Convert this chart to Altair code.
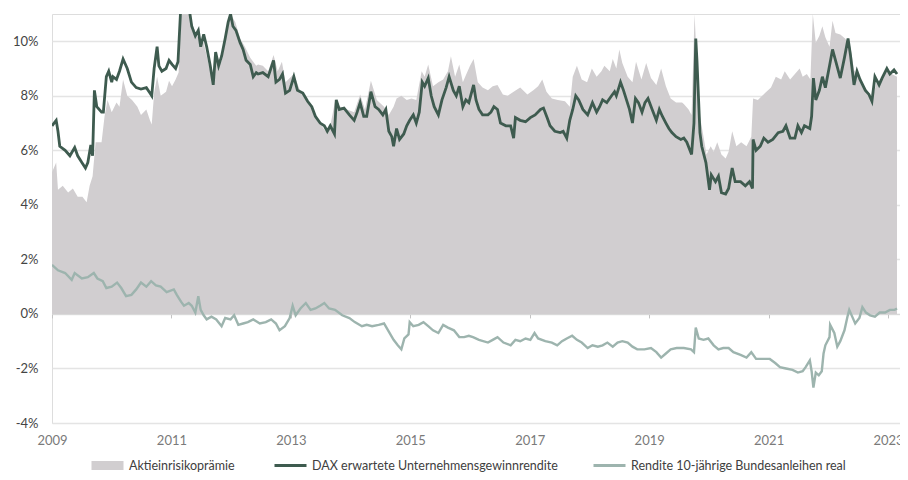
import altair as alt
import pandas as pd

# ---------------- data (decimal years, percent) ----------------
dax_year = [2009.00, 2009.07, 2009.10, 2009.13, 2009.22, 2009.30, 2009.38, 2009.43, 2009.50, 2009.56,
            2009.60, 2009.65, 2009.68, 2009.71, 2009.75, 2009.83, 2009.86, 2009.91, 2009.95, 2010.00,
            2010.02, 2010.08, 2010.13, 2010.19, 2010.26, 2010.33, 2010.41, 2010.49, 2010.58, 2010.64,
            2010.67, 2010.71, 2010.76, 2010.79, 2010.84, 2010.91, 2010.96, 2011.01, 2011.07, 2011.11,
            2011.16, 2011.21, 2011.29, 2011.34, 2011.40, 2011.45, 2011.49, 2011.54, 2011.59, 2011.65,
            2011.70, 2011.74, 2011.79, 2011.84, 2011.90, 2011.95, 2011.99, 2012.03, 2012.08, 2012.15,
            2012.20, 2012.25, 2012.32, 2012.37, 2012.42, 2012.45, 2012.53, 2012.62, 2012.71, 2012.75,
            2012.81, 2012.86, 2012.91, 2012.98, 2013.05, 2013.11, 2013.20, 2013.28, 2013.35, 2013.41,
            2013.49, 2013.56, 2013.61, 2013.66, 2013.73, 2013.76, 2013.81, 2013.89, 2013.98, 2014.06,
            2014.11, 2014.16, 2014.22, 2014.27, 2014.34, 2014.41, 2014.47, 2014.54, 2014.59, 2014.64,
            2014.69, 2014.72, 2014.77, 2014.82, 2014.89, 2014.94, 2014.99, 2015.05, 2015.10, 2015.15,
            2015.20, 2015.24, 2015.30, 2015.35, 2015.40, 2015.47, 2015.53, 2015.60, 2015.65, 2015.72,
            2015.77, 2015.82, 2015.88, 2015.93, 2015.98, 2016.06, 2016.10, 2016.15, 2016.21, 2016.30,
            2016.35, 2016.40, 2016.46, 2016.51, 2016.60, 2016.68, 2016.73, 2016.76, 2016.84, 2016.93,
            2017.01, 2017.09, 2017.18, 2017.23, 2017.29, 2017.34, 2017.42, 2017.51, 2017.56, 2017.62,
            2017.67, 2017.72, 2017.77, 2017.82, 2017.89, 2017.97, 2018.05, 2018.12, 2018.17, 2018.22,
            2018.29, 2018.37, 2018.42, 2018.45, 2018.52, 2018.57, 2018.62, 2018.67, 2018.72, 2018.77,
            2018.82, 2018.88, 2018.93, 2018.98, 2019.05, 2019.12, 2019.17, 2019.22, 2019.28, 2019.33,
            2019.38, 2019.45, 2019.53, 2019.58, 2019.63, 2019.71, 2019.75, 2019.78, 2019.80, 2019.85,
            2019.88, 2019.95, 2020.01, 2020.04, 2020.11, 2020.16, 2020.21, 2020.28, 2020.33, 2020.39,
            2020.44, 2020.53, 2020.61, 2020.68, 2020.73, 2020.74, 2020.79, 2020.86, 2020.92, 2020.99,
            2021.07, 2021.16, 2021.24, 2021.29, 2021.36, 2021.44, 2021.49, 2021.55, 2021.60, 2021.69,
            2021.72, 2021.75, 2021.79, 2021.85, 2021.90, 2021.95, 2022.02, 2022.07, 2022.12, 2022.20,
            2022.27, 2022.33, 2022.37, 2022.43, 2022.48, 2022.53, 2022.62, 2022.68, 2022.73, 2022.78,
            2022.85, 2022.90, 2022.98, 2023.03, 2023.10, 2023.15]
dax_value = [6.9, 7.1, 6.7, 6.15, 6.0, 5.8, 6.1, 5.8, 5.55, 5.35,
             5.55, 6.2, 5.8, 8.2, 7.6, 7.4, 7.4, 8.7, 8.9, 8.5,
             8.7, 8.6, 8.9, 9.35, 9.0, 8.5, 8.3, 8.25, 8.3, 8.1,
             8.0, 9.0, 9.8, 9.1, 8.9, 9.0, 9.3, 9.15, 9.0, 9.25,
             11.4, 11.6, 11.3, 10.55, 10.2, 10.4, 9.8, 10.25, 9.8, 9.1,
             8.4, 9.6, 9.1, 9.45, 10.1, 10.7, 11.0, 10.55, 10.4, 9.95,
             9.7, 9.3, 9.15, 8.7, 8.85, 8.8, 8.85, 8.7, 9.3, 8.5,
             8.6, 8.8, 8.1, 8.2, 8.7, 8.2, 8.1, 7.8, 7.6, 7.25,
             7.0, 6.9, 6.7, 6.9, 6.6, 7.85, 7.5, 7.55, 7.3, 7.1,
             7.4, 7.75, 7.25, 7.25, 8.15, 7.6, 7.5, 7.3, 7.5, 6.7,
             6.5, 6.15, 6.8, 6.4, 6.6, 6.9, 7.1, 7.3, 7.0, 7.4,
             8.5, 8.35, 8.65, 8.0, 7.6, 7.3, 7.85, 8.3, 8.7, 8.2,
             8.0, 8.35, 7.6, 7.85, 7.75, 8.4, 7.85, 7.5, 7.3, 7.3,
             7.4, 7.6, 7.5, 7.0, 6.9, 6.9, 6.45, 7.2, 7.1, 7.05,
             7.2, 7.3, 7.5, 7.55, 7.2, 6.9, 6.7, 6.65, 6.7, 6.45,
             7.1, 7.5, 8.0, 7.85, 7.5, 7.3, 7.75, 7.4, 7.6, 7.85,
             7.75, 8.0, 8.15, 8.0, 8.5, 8.2, 7.85, 7.5, 7.0, 7.9,
             7.75, 7.4, 7.75, 7.9, 7.5, 7.1, 7.5, 7.25, 7.0, 6.8,
             6.65, 6.5, 6.4, 6.45, 6.3, 5.85, 7.0, 10.1, 9.3, 6.65,
             6.15, 5.55, 4.55, 5.1, 4.85, 5.05, 4.45, 4.4, 4.6, 5.35,
             4.85, 4.85, 4.7, 4.85, 4.6, 6.4, 6.0, 6.15, 6.45, 6.3,
             6.4, 6.65, 6.7, 6.9, 6.45, 6.45, 6.9, 6.65, 6.9, 6.8,
             7.25, 8.65, 7.85, 8.2, 8.7, 8.3, 9.1, 9.7, 9.3, 8.65,
             9.4, 10.1, 9.5, 8.4, 8.9, 8.6, 8.2, 8.05, 7.8, 8.7,
             8.4, 8.65, 9.0, 8.8, 8.95, 8.8]

bond_year = [2009.00, 2009.10, 2009.22, 2009.33, 2009.38, 2009.50, 2009.60, 2009.70, 2009.76, 2009.85,
             2009.91, 2010.00, 2010.09, 2010.16, 2010.24, 2010.33, 2010.41, 2010.49, 2010.58, 2010.66,
             2010.74, 2010.82, 2010.92, 2011.04, 2011.09, 2011.16, 2011.21, 2011.29, 2011.34, 2011.40,
             2011.45, 2011.49, 2011.54, 2011.59, 2011.67, 2011.75, 2011.84, 2011.90, 2011.99, 2012.05,
             2012.12, 2012.20, 2012.28, 2012.37, 2012.48, 2012.58, 2012.67, 2012.75, 2012.81, 2012.90,
             2012.98, 2013.03, 2013.08, 2013.16, 2013.25, 2013.33, 2013.41, 2013.49, 2013.56, 2013.64,
             2013.74, 2013.86, 2013.98, 2014.07, 2014.19, 2014.27, 2014.36, 2014.47, 2014.56, 2014.64,
             2014.72, 2014.79, 2014.85, 2014.90, 2014.97, 2014.99, 2015.05, 2015.14, 2015.22, 2015.30,
             2015.38, 2015.47, 2015.55, 2015.63, 2015.73, 2015.82, 2015.90, 2015.98, 2016.05, 2016.15,
             2016.30, 2016.38, 2016.46, 2016.56, 2016.68, 2016.76, 2016.84, 2016.93, 2017.01, 2017.08,
             2017.14, 2017.26, 2017.37, 2017.46, 2017.54, 2017.62, 2017.71, 2017.79, 2017.87, 2017.97,
             2018.05, 2018.14, 2018.22, 2018.30, 2018.39, 2018.47, 2018.55, 2018.64, 2018.72, 2018.80,
             2018.92, 2019.03, 2019.12, 2019.20, 2019.28, 2019.36, 2019.46, 2019.58, 2019.70, 2019.75,
             2019.78, 2019.83, 2019.91, 2019.99, 2020.08, 2020.16, 2020.24, 2020.33, 2020.41, 2020.53,
             2020.63, 2020.71, 2020.79, 2020.91, 2021.02, 2021.11, 2021.19, 2021.29, 2021.40, 2021.49,
             2021.57, 2021.62, 2021.69, 2021.72, 2021.75, 2021.79, 2021.84, 2021.89, 2021.92, 2021.95,
             2022.02, 2022.03, 2022.10, 2022.15, 2022.20, 2022.27, 2022.32, 2022.35, 2022.42, 2022.45,
             2022.52, 2022.57, 2022.63, 2022.70, 2022.78, 2022.86, 2022.95, 2023.03, 2023.11, 2023.15]
bond_value = [1.8, 1.6, 1.5, 1.25, 1.5, 1.3, 1.35, 1.5, 1.3, 1.2,
              0.95, 1.0, 1.15, 0.95, 0.65, 0.7, 0.9, 1.15, 1.0, 1.2,
              1.05, 1.0, 0.8, 0.9, 0.7, 0.45, 0.3, 0.4, 0.3, 0.05,
              0.65, 0.15, -0.05, -0.2, -0.1, -0.2, -0.45, -0.15, -0.2, -0.05,
              -0.4, -0.35, -0.3, -0.2, -0.35, -0.3, -0.2, -0.35, -0.6, -0.45,
              -0.15, 0.3, -0.05, 0.2, 0.4, 0.15, 0.2, 0.3, 0.4, 0.2,
              0.15, -0.05, -0.15, -0.3, -0.45, -0.4, -0.45, -0.4, -0.35, -0.65,
              -0.95, -1.15, -1.3, -0.9, -0.75, -0.3, -0.45, -0.4, -0.3, -0.45,
              -0.6, -0.7, -0.4, -0.5, -0.6, -0.85, -0.85, -0.8, -0.85, -0.95,
              -1.05, -0.95, -0.85, -1.05, -1.15, -0.95, -1.0, -0.9, -0.95, -0.7,
              -0.9, -1.0, -1.05, -1.15, -1.0, -0.9, -0.8, -0.95, -1.05, -1.25,
              -1.15, -1.2, -1.15, -1.05, -1.2, -1.05, -1.0, -1.05, -1.2, -1.3,
              -1.3, -1.25, -1.4, -1.6, -1.45, -1.3, -1.25, -1.25, -1.3, -1.4,
              -0.5, -0.9, -0.95, -0.9, -1.15, -1.3, -1.25, -1.25, -1.4, -1.5,
              -1.6, -1.4, -1.65, -1.65, -1.65, -1.8, -1.95, -2.0, -2.05, -2.15,
              -2.1, -1.95, -1.7, -2.1, -2.7, -2.15, -2.25, -2.1, -1.45, -1.15,
              -0.85, -0.4, -0.7, -1.2, -1.0, -0.6, -0.1, 0.15, -0.2, -0.35,
              -0.15, 0.25, 0.05, -0.05, -0.1, 0.05, 0.05, 0.15, 0.15, 0.2]

prem_year = [2009.00, 2009.07, 2009.10, 2009.18, 2009.27, 2009.35, 2009.43, 2009.51, 2009.58, 2009.63,
             2009.68, 2009.73, 2009.83, 2009.88, 2009.93, 2010.00, 2010.08, 2010.13, 2010.19, 2010.26,
             2010.34, 2010.43, 2010.49, 2010.58, 2010.64, 2010.67, 2010.71, 2010.76, 2010.82, 2010.91,
             2010.96, 2011.01, 2011.07, 2011.12, 2011.16, 2011.26, 2011.34, 2011.42, 2011.54, 2011.65,
             2011.70, 2011.75, 2011.84, 2011.92, 2011.99, 2012.07, 2012.15, 2012.23, 2012.32, 2012.42,
             2012.45, 2012.53, 2012.62, 2012.71, 2012.78, 2012.85, 2012.91, 2013.05, 2013.15, 2013.25,
             2013.36, 2013.48, 2013.58, 2013.66, 2013.74, 2013.83, 2013.94, 2014.06, 2014.16, 2014.24,
             2014.34, 2014.44, 2014.56, 2014.64, 2014.72, 2014.77, 2014.85, 2014.94, 2015.02, 2015.10,
             2015.19, 2015.24, 2015.30, 2015.38, 2015.47, 2015.55, 2015.63, 2015.68, 2015.75, 2015.82,
             2015.88, 2015.93, 2016.00, 2016.06, 2016.13, 2016.21, 2016.30, 2016.38, 2016.46, 2016.55,
             2016.63, 2016.73, 2016.84, 2016.96, 2017.06, 2017.14, 2017.21, 2017.28, 2017.37, 2017.47,
             2017.59, 2017.67, 2017.72, 2017.79, 2017.87, 2017.96, 2018.04, 2018.12, 2018.20, 2018.25,
             2018.34, 2018.39, 2018.45, 2018.50, 2018.55, 2018.64, 2018.72, 2018.78, 2018.87, 2018.95,
             2019.03, 2019.12, 2019.20, 2019.28, 2019.36, 2019.45, 2019.55, 2019.58, 2019.66, 2019.71,
             2019.76, 2019.80, 2019.85, 2019.91, 2019.96, 2020.03, 2020.08, 2020.14, 2020.21, 2020.28,
             2020.33, 2020.39, 2020.46, 2020.54, 2020.63, 2020.71, 2020.74, 2020.82, 2020.94, 2021.04,
             2021.12, 2021.21, 2021.27, 2021.36, 2021.44, 2021.52, 2021.57, 2021.64, 2021.70, 2021.74,
             2021.79, 2021.85, 2021.90, 2021.95, 2022.02, 2022.07, 2022.12, 2022.20, 2022.28, 2022.37,
             2022.43, 2022.52, 2022.60, 2022.68, 2022.73, 2022.81, 2022.90, 2022.98, 2023.06, 2023.15]
prem_value = [5.2, 5.55, 4.55, 4.7, 4.45, 4.6, 4.3, 4.3, 4.1, 4.7,
              5.05, 6.3, 6.3, 7.25, 7.85, 7.4, 7.75, 7.6, 8.6, 8.0,
              7.85, 7.6, 7.3, 7.5, 7.1, 6.95, 8.1, 8.7, 8.0, 8.15,
              8.55, 8.35, 8.6, 8.85, 10.9, 11.3, 10.7, 10.2, 9.95, 8.9,
              8.5, 9.45, 9.25, 10.2, 11.0, 10.7, 10.1, 9.8, 9.4, 9.1,
              9.15, 9.1, 8.9, 9.5, 8.9, 9.25, 8.5, 8.8, 8.2, 8.0,
              7.5, 7.0, 6.7, 6.9, 7.8, 7.6, 7.5, 7.4, 8.05, 7.5,
              8.55, 7.85, 7.6, 7.3, 7.6, 7.9, 8.0, 7.85, 7.9, 7.85,
              8.9, 8.7, 9.15, 8.35, 8.5, 8.6, 8.9, 9.45, 8.7, 9.15,
              8.5, 8.75, 9.1, 9.35, 8.5, 8.3, 8.2, 8.35, 8.4, 8.05,
              8.0, 8.15, 8.3, 8.05, 8.2, 8.35, 8.6, 8.15, 7.9, 7.85,
              7.8, 7.6, 8.7, 9.1, 8.6, 8.5, 9.0, 8.7, 8.9, 9.1,
              8.9, 9.35, 9.0, 9.7, 9.2, 8.7, 8.5, 9.25, 8.6, 9.2,
              8.65, 8.4, 9.0, 8.35, 7.9, 7.75, 7.75, 7.7, 7.5, 7.3,
              11.0, 9.1, 7.25, 6.5, 5.85, 6.15, 5.95, 6.3, 5.85, 5.7,
              5.95, 6.7, 6.15, 6.3, 6.15, 6.5, 7.9, 7.85, 8.1, 8.3,
              8.7, 8.6, 8.9, 8.6, 8.8, 9.0, 8.7, 8.8, 8.6, 11.0,
              9.95, 10.2, 10.55, 10.15, 9.8, 10.75, 10.3, 10.25, 10.1, 9.8,
              8.95, 8.7, 8.35, 8.1, 7.85, 8.5, 8.65, 8.9, 8.8, 8.7]

series_names = ["Aktieinrisikoprämie",
                "DAX erwartete Unternehmensgewinnrendite",
                "Rendite 10-jährige Bundesanleihen real"]
series_colors = ["#d1ced0", "#3e5b4f", "#9db4ae"]

y_ticks = [-4, -2, 0, 2, 4, 6, 8, 10]
x_ticks = [2009, 2011, 2013, 2015, 2017, 2019, 2021, 2023]

# ---------------- tables ----------------
prem_df = pd.DataFrame({"year": prem_year, "value": prem_value, "series": series_names[0]})
dax_df = pd.DataFrame({"year": dax_year, "value": dax_value, "series": series_names[1]})
bond_df = pd.DataFrame({"year": bond_year, "value": bond_value, "series": series_names[2]})

# ---------------- layout ----------------
W, H = 848, 409
Y_MIN, Y_MAX = -4, 11
below_zero = H * (0 - Y_MIN) / (Y_MAX - Y_MIN)   # pixels from the 0% line down to the plot bottom
FONT = "Lato"
LEG_Y = 434

xscale = alt.Scale(domain=[2009, 2023.2], nice=False, zero=False)
yscale = alt.Scale(domain=[Y_MIN, Y_MAX], nice=False, zero=False)
xaxis = alt.Axis(values=x_ticks, format="d", grid=False, domain=True, domainColor="#d9d9d9",
                 ticks=True, tickSize=4, tickColor="#c4c4c4", orient="bottom",
                 offset=-below_zero, labelPadding=below_zero + 7, labelFlush=False,
                 labelFont=FONT, labelFontSize=13, labelColor="#7a7a7a", title=None)
yaxis = alt.Axis(values=y_ticks, labelExpr="datum.value + '%'", grid=True, gridColor="#e4e4e4",
                 gridWidth=1.5, domain=False, ticks=False, labelPadding=14, labelFont=FONT,
                 labelFontSize=13, labelColor="#444444", title=None)


def leg(x, symbol):
    return alt.Legend(title=None, orient="none", legendX=x, legendY=LEG_Y, direction="horizontal",
                      symbolType=symbol, symbolSize=1024, symbolStrokeWidth=3, labelFont=FONT,
                      labelFontSize=12.5, labelColor="#404040", labelLimit=400, labelOffset=4,
                      padding=0)


area = alt.Chart(prem_df).mark_area(clip=True, interpolate="linear", opacity=1).encode(
    x=alt.X("year:Q", scale=xscale, axis=xaxis),
    y=alt.Y("value:Q", scale=yscale, axis=yaxis),
    fill=alt.Fill("series:N", scale=alt.Scale(domain=[series_names[0]], range=[series_colors[0]]),
                  legend=leg(38, "M-1,-0.28L1,-0.28L1,0.28L-1,0.28Z")),
)

dax_line = alt.Chart(dax_df).mark_line(clip=True, interpolate="linear", strokeWidth=2.8).encode(
    x=alt.X("year:Q", scale=xscale, axis=xaxis),
    y=alt.Y("value:Q", scale=yscale, axis=yaxis),
    stroke=alt.Stroke("series:N", scale=alt.Scale(domain=[series_names[1]], range=[series_colors[1]]),
                      legend=leg(221, "stroke")),
)

bond_line = alt.Chart(bond_df).mark_line(clip=True, interpolate="linear", strokeWidth=2.4).encode(
    x=alt.X("year:Q", scale=xscale, axis=xaxis),
    y=alt.Y("value:Q", scale=yscale, axis=yaxis),
    color=alt.Color("series:N", scale=alt.Scale(domain=[series_names[2]], range=[series_colors[2]]),
                    legend=leg(540, "stroke")),
)

chart = alt.layer(area, dax_line, bond_line).properties(
    width=W, height=H,
    padding={"left": 44, "top": 6, "right": 0, "bottom": 49},
    autosize=alt.AutoSizeParams(type="none"),
).configure_view(strokeWidth=0).configure(background="white")

chart.save("out.html", embed_options={"renderer": "svg", "actions": False})
